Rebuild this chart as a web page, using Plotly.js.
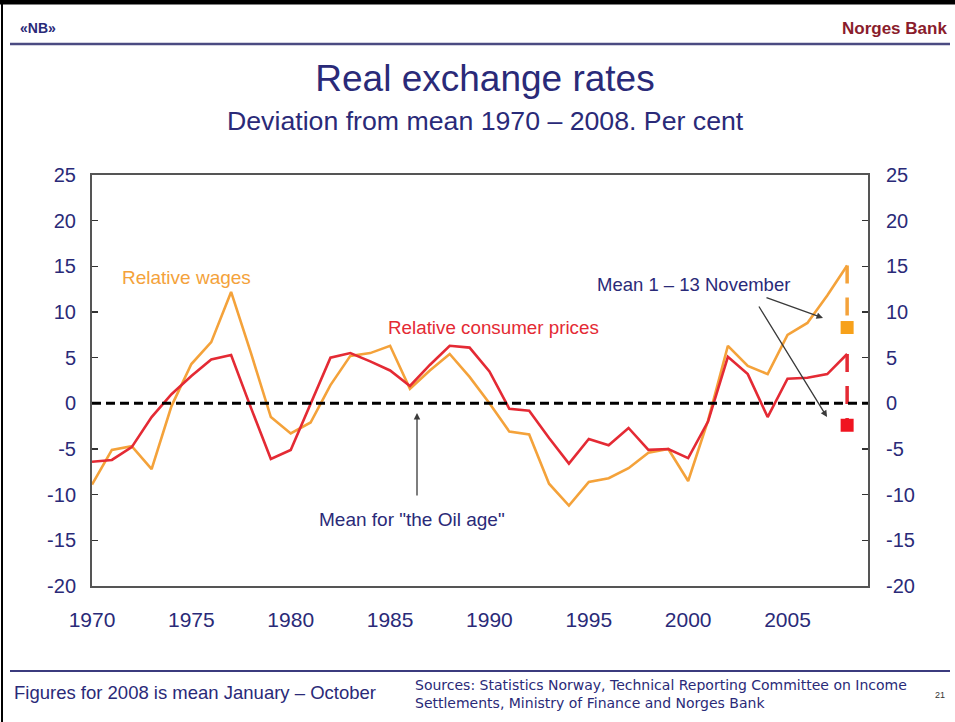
<!DOCTYPE html>
<html>
<head>
<meta charset="utf-8">
<script src="https://cdn.plot.ly/plotly-3.0.1.min.js"></script>
<style>html,body{margin:0;padding:0;background:#fff;}#chart{width:955px;height:722px;}</style>
</head>
<body>
<div id="chart"></div>
<script>
// ---- data ----
const years = [1970,1971,1972,1973,1974,1975,1976,1977,1978,1979,1980,1981,1982,1983,1984,1985,1986,1987,1988,1989,1990,1991,1992,1993,1994,1995,1996,1997,1998,1999,2000,2001,2002,2003,2004,2005,2006,2007,2008];
const relativeWages = [-8.9,-5.1,-4.7,-7.2,-0.3,4.3,6.7,12.2,5.5,-1.5,-3.3,-2.1,2.0,5.2,5.5,6.3,1.6,3.6,5.4,2.9,0.0,-3.1,-3.4,-8.8,-11.2,-8.6,-8.2,-7.1,-5.4,-5.0,-8.5,-1.9,6.3,4.1,3.2,7.5,8.8,11.8,15.1];
const relativePrices = [-6.4,-6.2,-4.8,-1.5,1.0,3.0,4.8,5.3,-0.5,-6.1,-5.1,0.0,5.0,5.5,4.6,3.6,1.9,4.2,6.3,6.1,3.5,-0.6,-0.8,-3.8,-6.6,-3.9,-4.6,-2.7,-5.1,-5.0,-6.0,-2.0,5.1,3.2,-1.5,2.7,2.8,3.2,5.4];
const novYear = [2008];
const wagesNov = [8.3];
const pricesNov = [-2.4];
const xTicks = [1970,1975,1980,1985,1990,1995,2000,2005];
const yTicks = [-20,-15,-10,-5,0,5,10,15,20,25];
const yTickText = ['-20','-15','-10','-5','0','5','10','15','20','25'];

// ---- styling helpers ----
const FONT = "Arial, 'Liberation Sans', sans-serif";
const NAVY = '#2a2a78';
const ORANGE = '#F4A23A';
const RED = '#E42A34';
const L = 92, R = 868, T = 175, B = 586, W = 955, H = 722;
const X = p => (p - L) / (R - L);
const Y = p => (B - p) / (B - T);

const traces = [
  {x: years, y: relativeWages, mode: 'lines', line: {color: ORANGE, width: 2.6}, hoverinfo: 'skip'},
  {x: years, y: relativePrices, mode: 'lines', line: {color: RED, width: 2.6}, hoverinfo: 'skip'},
  {x: [novYear[0], novYear[0]], y: [relativeWages[relativeWages.length-1], wagesNov[0]], yaxis: 'y2', mode: 'lines',
   line: {color: ORANGE, width: 3.5, dash: '18px,14px'}, hoverinfo: 'skip'},
  {x: [novYear[0], novYear[0]], y: [relativePrices[relativePrices.length-1], pricesNov[0]], yaxis: 'y2', mode: 'lines',
   line: {color: RED, width: 3.5, dash: '18px,14px'}, hoverinfo: 'skip'},
  {x: novYear, y: wagesNov, yaxis: 'y2', mode: 'markers', marker: {symbol: 'square', size: 13, color: '#F7A11A'}, hoverinfo: 'skip'},
  {x: novYear, y: pricesNov, yaxis: 'y2', mode: 'markers', marker: {symbol: 'square', size: 13, color: '#F01420'}, hoverinfo: 'skip'}
];

const txt = (text, x, y, size, color, xanchor, extra, family) => Object.assign({
  text: text, xref: 'paper', yref: 'paper', x: X(x), y: Y(y), xanchor: xanchor || 'center', yanchor: 'middle',
  showarrow: false, font: {family: family || FONT, size: size, color: color}
}, extra || {});
const arrow = (hx, hy, tx, ty) => ({
  text: '', xref: 'paper', yref: 'paper', x: X(hx), y: Y(hy), ax: tx - hx, ay: ty - hy,
  showarrow: true, arrowhead: 2, arrowsize: 1, arrowwidth: 1.3, arrowcolor: '#3a3a3a'
});

const layout = {
  width: W, height: H,
  margin: {l: L, r: W - R, t: T, b: H - B, pad: 0},
  paper_bgcolor: '#ffffff', plot_bgcolor: '#ffffff',
  showlegend: false,
  title: {text: 'Real exchange rates', x: 485 / W, y: 1 - 78 / H, xanchor: 'center', yanchor: 'middle',
          font: {family: FONT, size: 37, color: NAVY}},
  xaxis: {range: [1970, 2009.05], tickvals: xTicks, ticks: '', showgrid: false, zeroline: false,
          showline: true, linecolor: '#555555', linewidth: 2, mirror: true,
          tickfont: {family: FONT, size: 21, color: NAVY}, ticklabelstandoff: 14},
  yaxis: {range: [-20, 25], tickvals: yTicks, ticktext: yTickText, ticks: 'inside', ticklen: 6, tickwidth: 1.5, tickcolor: '#333',
          showgrid: false, zeroline: false, showline: true, linecolor: '#555555', linewidth: 2, mirror: 'ticks',
          tickfont: {family: FONT, size: 20, color: NAVY}, ticklabelstandoff: 10},
  yaxis2: {range: [-20, 25], tickvals: yTicks, ticktext: yTickText, overlaying: 'y', side: 'right', ticks: '', showgrid: false,
           zeroline: false, showline: false,
           tickfont: {family: FONT, size: 20, color: NAVY}, ticklabelstandoff: 17},
  shapes: [
    {type: 'line', xref: 'paper', yref: 'y', x0: 0, x1: 1, y0: 0, y1: 0, line: {color: '#000', width: 3, dash: '9px,5px'}},
    {type: 'line', xref: 'paper', yref: 'paper', x0: X(10), x1: X(950), y0: Y(44), y1: Y(44), line: {color: '#4b4b82', width: 2.5}},
    {type: 'line', xref: 'paper', yref: 'paper', x0: X(10), x1: X(950), y0: Y(671), y1: Y(671), line: {color: '#3b3b7e', width: 2}},
    {type: 'line', xref: 'paper', yref: 'paper', x0: X(0), x1: X(955), y0: Y(2), y1: Y(2), line: {color: '#000', width: 5}},
    {type: 'line', xref: 'paper', yref: 'paper', x0: X(2), x1: X(2), y0: Y(0), y1: Y(722), line: {color: '#000', width: 2}}
  ],
  annotations: [
    txt('Deviation from mean 1970 \u2013 2008. Per cent', 485, 121, 26.7, NAVY),
    txt('<b>\u00abNB\u00bb</b>', 18, 28, 14, NAVY, 'left'),
    txt('<b>Norges Bank</b>', 949, 28, 17, '#8a1c2c', 'right'),
    txt('Relative wages', 186, 277, 19, ORANGE),
    txt('Relative consumer prices', 493, 327, 18.8, RED),
    txt('Mean 1 \u2013 13 November', 693, 284, 18.5, NAVY),
    txt('Mean for "the Oil age"', 412, 519, 19, NAVY),
    arrow(417, 413, 417, 497),
    arrow(823, 318, 765, 297),
    arrow(827, 417, 758, 305),
    txt('Figures for 2008 is mean January \u2013 October', 12, 692, 18.5, NAVY, 'left'),
    txt('Sources: Statistics Norway, Technical Reporting Committee on Income<br>Settlements, Ministry of Finance and Norges Bank', 413, 694, 14, NAVY, 'left', {align: 'left'}, "'DejaVu Sans', sans-serif"),
    txt('21', 940, 695, 9, '#333', 'center')
  ]
};

Plotly.newPlot('chart', traces, layout, {displayModeBar: false, staticPlot: true});
</script>
</body>
</html>
